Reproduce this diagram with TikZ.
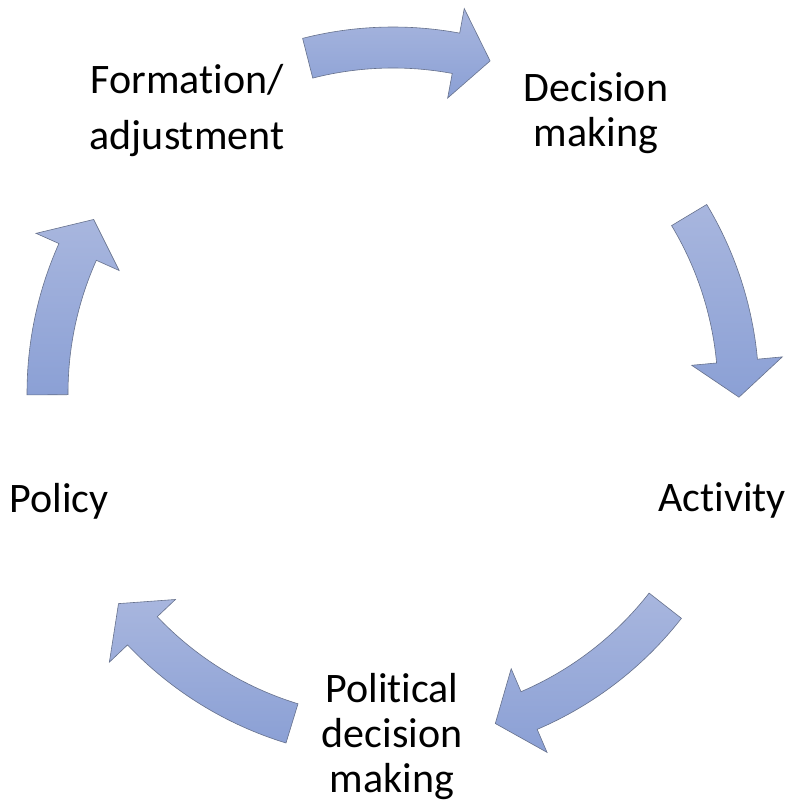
\documentclass[tikz,border=0pt]{standalone}
\usepackage{fontspec}
\setmainfont{Carlito}[RawFeature={-liga;-clig;-calt;-dlig}]
\definecolor{arrowtop}{HTML}{A8B6DE}
\definecolor{arrowbot}{HTML}{8BA0D5}
\definecolor{arrowline}{HTML}{66718C}
\tikzset{
  arrowshape/.style={draw=arrowline, line width=0.6pt, line join=miter,
    top color=arrowtop, bottom color=arrowbot},
  lbl/.style={font=\fontsize{42}{45}\selectfont, align=center, inner sep=0pt, anchor=base, text=black}
}
% #1 tail angle, #2 tip angle, #3 head base angle
\newcommand{\cyclearrow}[3]{%
  \path[arrowshape] (#1:366) arc[start angle=#1, end angle=#3, radius=366]
    -- (#3:391) -- (#2:346) -- (#3:300) -- (#3:325)
    arc[start angle=#3, end angle=#1, radius=325] -- cycle;}
\begin{document}
\begin{tikzpicture}[x=1pt,y=1pt]
\useasboundingbox (0,0) rectangle (789,810);
\fill[white] (0,0) rectangle (789,810);
\begin{scope}[shift={(393,417)}]
  \cyclearrow{104.3}{73.7}{79.5}
  \cyclearrow{31.0}{-0.7}{5.3}
  \cyclearrow{-38.0}{-72.8}{-66.8}
  \cyclearrow{-107.0}{-142.5}{-136.5}
  \cyclearrow{180.3}{149.9}{155.9}
\end{scope}
\node[lbl] (form) at (187,660) {Formation/\\[11pt]adjustment};
\node[lbl] (dec) at (596,663) {Decision\\making};
\node[lbl] (act) at (722,298) {Activity};
\node[lbl] (pol) at (59,297) {Policy};
\node[lbl] (poldec) at (392,17) {Political\\decision\\making};
\end{tikzpicture}
\end{document}
